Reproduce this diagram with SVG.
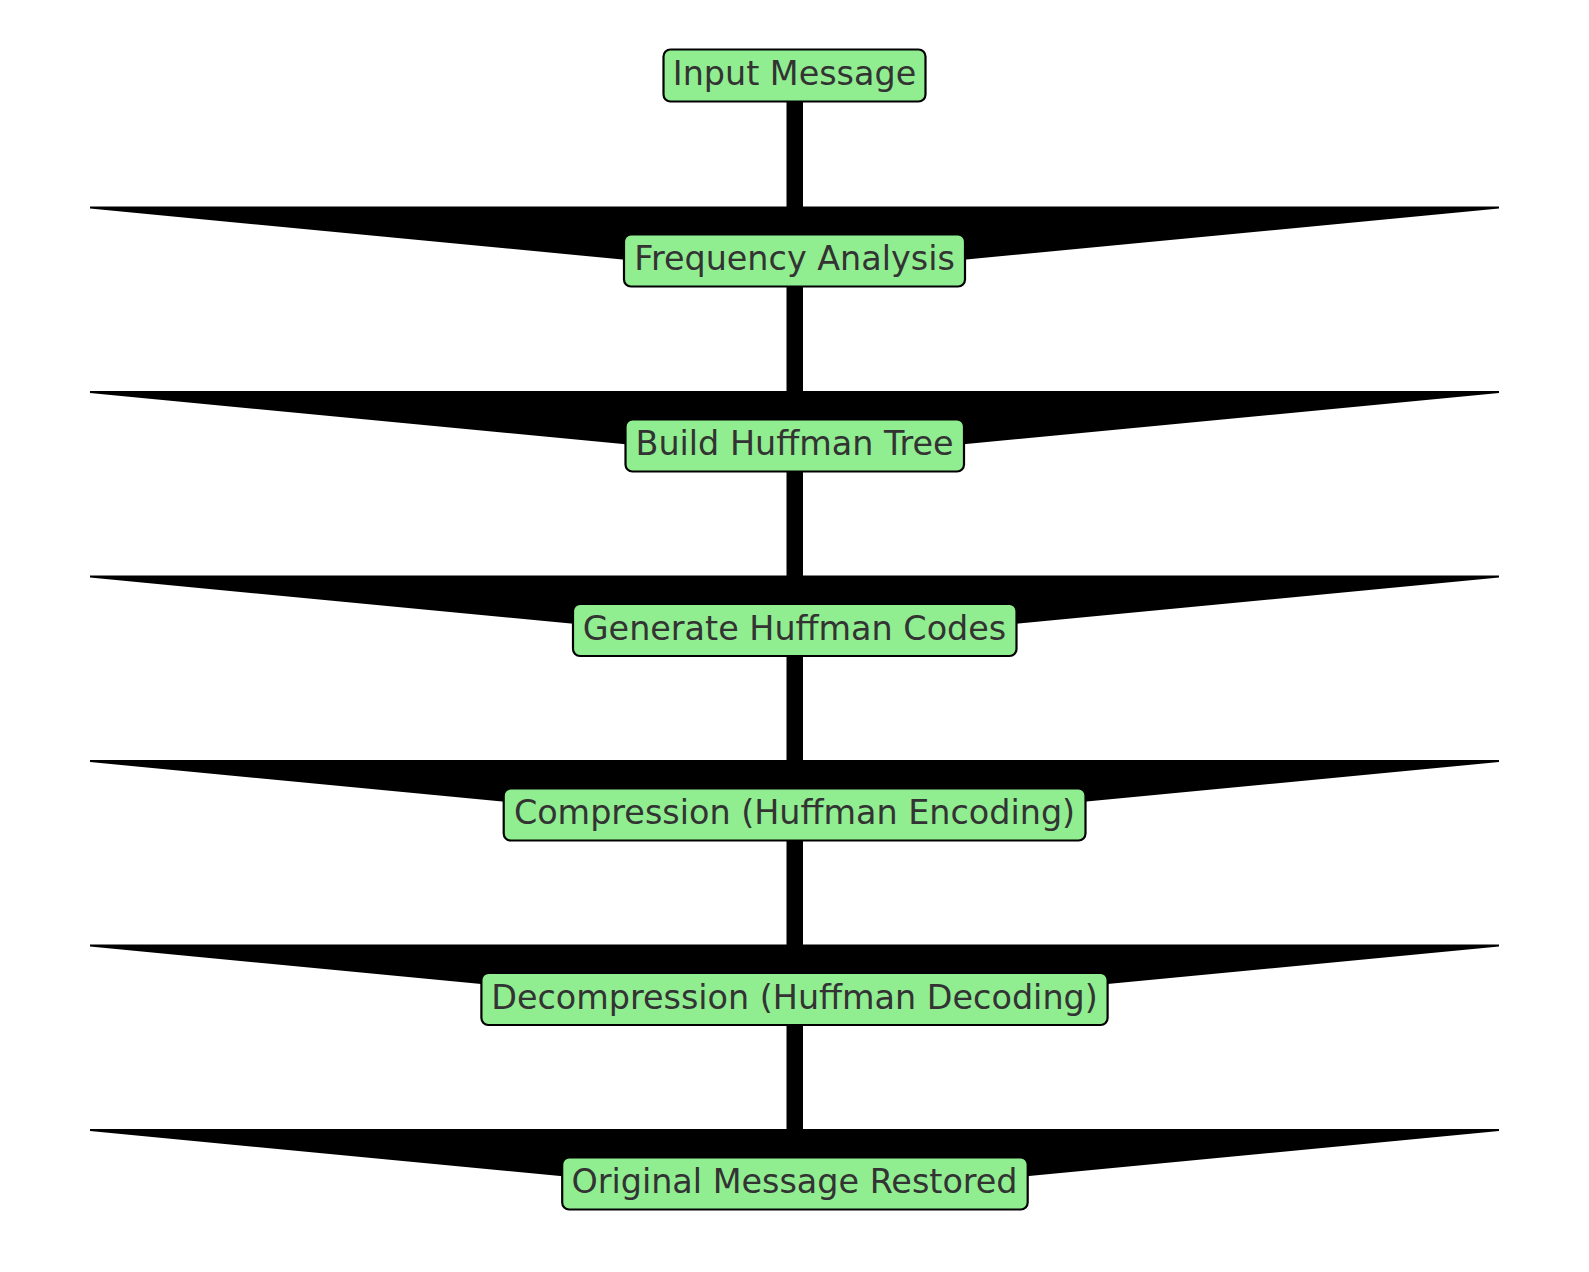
<svg xmlns="http://www.w3.org/2000/svg" width="1589" height="1272" viewBox="0 0 1589 1272">
<style>
.box{fill:#90ee90;stroke:#000;stroke-width:2.2}
.lbl{font-family:"DejaVu Sans",sans-serif;font-size:33.4px;fill:#333333;text-anchor:middle}
.stem{fill:#000}
.head{fill:#000}
</style>
<rect width="1589" height="1272" fill="#ffffff"/>
<g id="connectors">
<rect class="stem" x="786.5" y="90" width="16.5" height="126"/>
<polygon class="head" points="90,206.5 1499,206.5 1499,208.5 794.5,276 90,208.5"/>
<rect class="stem" x="786.5" y="275" width="16.5" height="126"/>
<polygon class="head" points="90,391 1499,391 1499,393 794.5,460.5 90,393"/>
<rect class="stem" x="786.5" y="460" width="16.5" height="126"/>
<polygon class="head" points="90,575.5 1499,575.5 1499,577.5 794.5,645 90,577.5"/>
<rect class="stem" x="786.5" y="644" width="16.5" height="126"/>
<polygon class="head" points="90,760 1499,760 1499,762 794.5,829.5 90,762"/>
<rect class="stem" x="786.5" y="829" width="16.5" height="126"/>
<polygon class="head" points="90,944.5 1499,944.5 1499,946.5 794.5,1014 90,946.5"/>
<rect class="stem" x="786.5" y="1013" width="16.5" height="126"/>
<polygon class="head" points="90,1129 1499,1129 1499,1131 794.5,1198.5 90,1131"/>
</g>
<g id="n1"><rect class="box" x="663.5" y="49.5" width="262" height="52" rx="7"/><text class="lbl" x="794.5" y="85">Input Message</text></g>
<g id="n2"><rect class="box" x="624" y="234.5" width="341" height="52" rx="7"/><text class="lbl" x="794.5" y="270">Frequency Analysis</text></g>
<g id="n3"><rect class="box" x="625.5" y="419.5" width="338.5" height="52" rx="7"/><text class="lbl" x="794.5" y="455">Build Huffman Tree</text></g>
<g id="n4"><rect class="box" x="573" y="604" width="443.5" height="52" rx="7"/><text class="lbl" x="794.5" y="639.5">Generate Huffman Codes</text></g>
<g id="n5"><rect class="box" x="503.7" y="788.5" width="581.8" height="52" rx="7"/><text class="lbl" x="794.5" y="824">Compression (Huffman Encoding)</text></g>
<g id="n6"><rect class="box" x="481.4" y="973" width="626.2" height="52" rx="7"/><text class="lbl" x="794.5" y="1008.5">Decompression (Huffman Decoding)</text></g>
<g id="n7"><rect class="box" x="562.2" y="1157.5" width="465.5" height="52" rx="7"/><text class="lbl" x="794.5" y="1193">Original Message Restored</text></g>
</svg>
